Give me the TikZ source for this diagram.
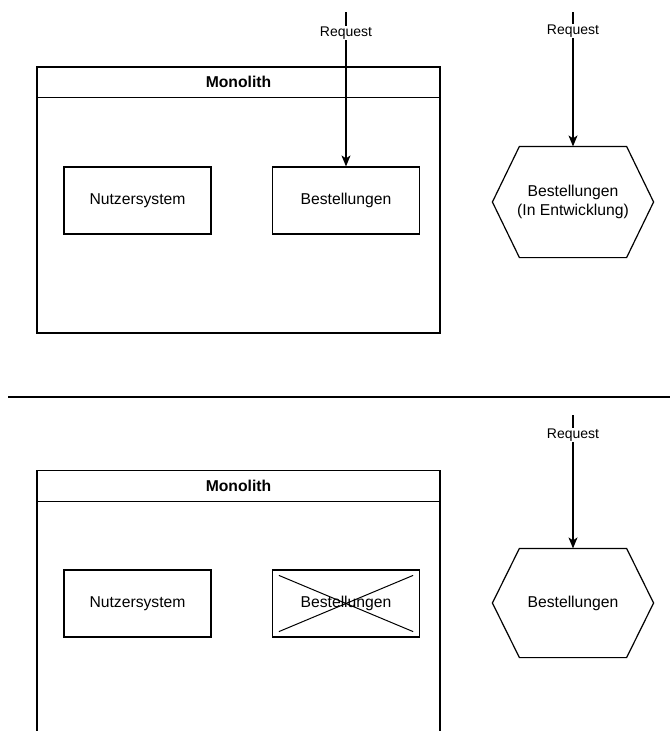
\documentclass[tikz,border=0pt]{standalone}
\usepackage{fontspec}
\setmainfont{Liberation Sans}
\usetikzlibrary{arrows.meta,calc}
\begin{document}
\begin{tikzpicture}[x=1pt,y=-1pt,line width=1.2pt,
  txt/.style={font=\fontsize{15.7}{18.5}\selectfont},
  compbox/.style={draw,txt,minimum width=147pt,minimum height=67pt,inner sep=0pt},
  hexbox/.style={txt,align=center,minimum width=160pt,inner sep=0pt},
  frame/.style={draw,minimum width=403pt,inner sep=0pt},
  title/.style={font=\fontsize{15.7}{18}\selectfont\bfseries,minimum width=403pt,minimum height=30pt,inner sep=0pt},
  arr/.style={-{Stealth[length=11pt,width=9pt,inset=3pt]}},
  lbl/.style={fill=white,inner sep=1pt,font=\fontsize{14}{16}\selectfont}]
\useasboundingbox (0,0) rectangle (670,731);
\clip (0,0) rectangle (670,731);

% ---- upper part: Monolith with Bestellungen, new service in development
\node[frame,minimum height=266pt] (mono1) at (238.5,200) {};
\node[title,anchor=north] (mono1t) at (mono1.north) {Monolith};
\draw (mono1t.south west) -- (mono1t.south east);
\node[compbox] (nutz1) at (137.5,200.5) {Nutzersystem};
\node[compbox] (best1) at (346,200.5) {Bestellungen};
\node[hexbox,minimum height=110pt] (hex1) at (573,202) {Bestellungen\\(In Entwicklung)};
\draw (hex1.west) -- ($(hex1.north west)+(27,0)$) -- ($(hex1.north east)+(-27,0)$)
  -- (hex1.east) -- ($(hex1.south east)+(-27,0)$) -- ($(hex1.south west)+(27,0)$) -- cycle;

\coordinate (req1) at (346,12);
\coordinate (req2) at (573,12);
\draw[arr] (req1) -- node[lbl,pos=0.136] {Request} (best1.north);
\draw[arr] (req2) -- node[lbl,pos=0.141] {Request} (hex1.north);

% ---- separator
\coordinate (sepL) at (8,397);
\coordinate (sepR) at (670,397);
\draw (sepL) -- (sepR);

% ---- lower part: Bestellungen replaced by the service
\node[frame,minimum height=300pt,anchor=north] (mono2) at (238.5,470) {};
\node[title,anchor=north] (mono2t) at (mono2.north) {Monolith};
\draw (mono2t.south west) -- (mono2t.south east);
\node[compbox] (nutz2) at (137.5,603.5) {Nutzersystem};
\node[compbox] (best2) at (346,603.5) {Bestellungen};
\draw[line width=1pt] ($(best2.north west)+(7,6)$) -- ($(best2.south east)+(-7,-6)$);
\draw[line width=1pt] ($(best2.north east)+(-7,6)$) -- ($(best2.south west)+(7,-6)$);
\node[hexbox,minimum height=108pt] (hex2) at (573,603) {Bestellungen};
\draw (hex2.west) -- ($(hex2.north west)+(27,0)$) -- ($(hex2.north east)+(-27,0)$)
  -- (hex2.east) -- ($(hex2.south east)+(-27,0)$) -- ($(hex2.south west)+(27,0)$) -- cycle;

\coordinate (req3) at (573,415);
\draw[arr] (req3) -- node[lbl,pos=0.149] {Request} (hex2.north);
\end{tikzpicture}
\end{document}
